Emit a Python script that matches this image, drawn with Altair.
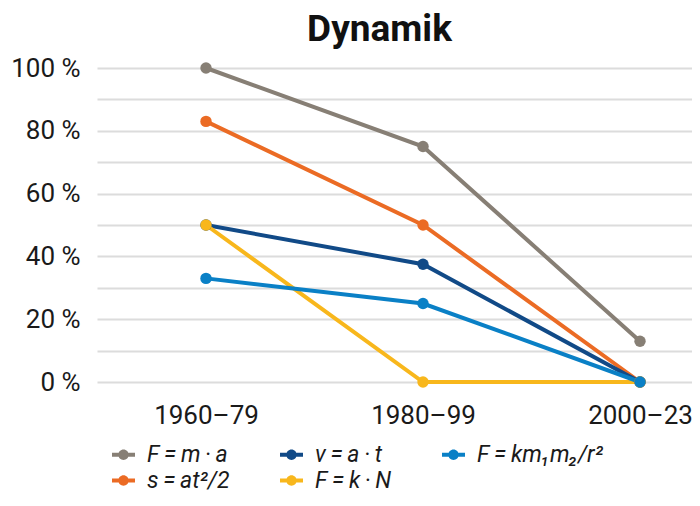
import altair as alt
import pandas as pd

periods = ["1960–79", "1980–99", "2000–23"]
series_names = ["F\u2009=\u2009m\u2009·\u2009a", "s\u2009=\u2009at²/2", "v\u2009=\u2009a\u2009·\u2009t", "F\u2009=\u2009k\u2009·\u2009N", "F\u2009=\u2009km₁m₂/r²"]
series_colors = ["#877f75", "#eb6b24", "#114a87", "#f8b71c", "#0a80c6"]
values = [
    [100, 75, 13],
    [83, 50, 0],
    [50, 37.5, 0],
    [50, 0, 0],
    [33, 25, 0],
]
legend_order = [series_names[0], series_names[2], series_names[4], series_names[1], series_names[3]]
legend_colors = [series_colors[0], series_colors[2], series_colors[4], series_colors[1], series_colors[3]]

rows = []
for name, vals in zip(series_names, values):
    for i, (p, v) in enumerate(zip(periods, vals)):
        rows.append({"series": name, "period": p, "idx": i, "value": v})
df = pd.DataFrame(rows)

FONT = "Roboto"
period_js = "[" + ",".join("'" + p + "'" for p in periods) + "]"

x = alt.X("idx:Q", title=None,
          scale=alt.Scale(domain=[-0.5023, 2.2396], nice=False, zero=False),
          axis=alt.Axis(values=[0, 1, 2], labelExpr=period_js + "[datum.value]",
                        labelAngle=0, labelFontSize=26, labelColor="#1a1a1a", labelFont=FONT,
                        ticks=False, domain=False, grid=False, labelPadding=20, labelFlush=False))
y = alt.Y("value:Q", title=None,
          scale=alt.Scale(domain=[0, 100], nice=False),
          axis=alt.Axis(values=list(range(0, 101, 10)),
                        labelExpr="datum.value % 20 == 0 ? datum.value + ' %' : ''",
                        labelFontSize=26, labelColor="#1a1a1a", labelFont=FONT,
                        ticks=False, domain=False, grid=True, gridColor="#dcdcdc", gridWidth=2,
                        labelPadding=17))

legend = alt.Legend(
    title=None, orient="none", legendX=15, legendY=375, columns=3, direction="horizontal",
    columnPadding=50, rowPadding=2,
    symbolType="M -1 -0.17 L 1 -0.17 L 1 0.17 L -1 0.17 Z M 0.45 0 A 0.45 0.45 0 1 1 -0.45 0 A 0.45 0.45 0 1 1 0.45 0 Z",
    symbolSize=529, symbolStrokeWidth=0, symbolOpacity=1, labelOffset=12,
    labelFontSize=23, labelFontStyle="italic", labelFont=FONT, labelColor="#1a1a1a", labelLimit=300,
)

base = alt.Chart(df)
lines = base.mark_line(strokeWidth=4).encode(
    x=x, y=y,
    stroke=alt.Stroke("series:N", scale=alt.Scale(domain=legend_order, range=legend_colors), legend=None))
points = base.mark_point(filled=True, size=130, opacity=1).encode(
    x=x, y=y,
    fill=alt.Fill("series:N", scale=alt.Scale(domain=legend_order, range=legend_colors), legend=legend))

chart = alt.layer(lines, points).properties(
    width=595, height=314,
    title=alt.TitleParams("Dynamik", fontSize=37, font=FONT, fontWeight="bold", color="#111111",
                          anchor="middle", dx=-15, offset=6),
    padding={"left": 89, "top": 60, "right": 0, "bottom": 111},
    autosize=alt.AutoSizeParams(type="none"),
).configure_view(stroke=None).resolve_scale(fill="independent", stroke="independent")

chart.save("out.html", embed_options={"renderer": "svg", "actions": False})
